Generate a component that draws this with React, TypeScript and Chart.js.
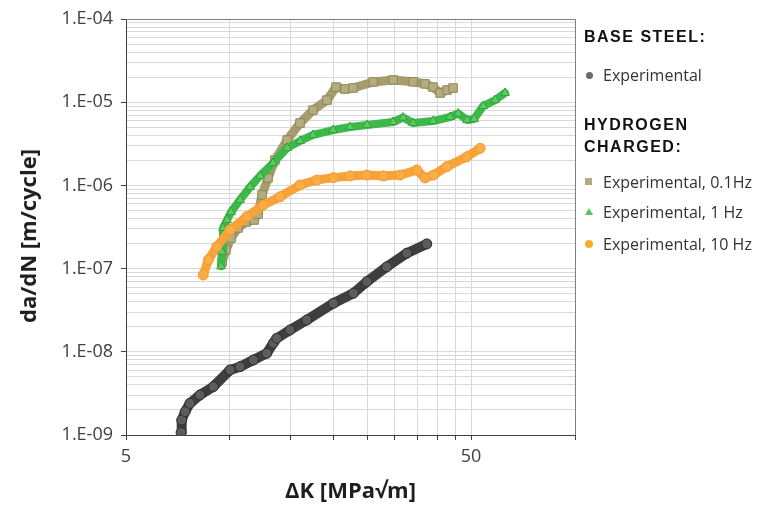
import React, { useEffect, useRef } from 'react';
import { Chart, registerables } from 'chart.js';

Chart.register(...registerables);

// ---- axis ticks ----
const xTickValues = [5, 10, 15, 20, 25, 30, 35, 40, 45, 50, 100];
const xLabelValues = [5, 50];
const yMajorValues = [1e-9, 1e-8, 1e-7, 1e-6, 1e-5, 1e-4];
const yMinorMultipliers = [2, 3, 4, 5, 6, 7, 8, 9];

// ---- series: Base steel, experimental ----
const baseK = [7.22, 7.25, 7.42, 7.66, 8.19, 8.95, 10.01, 10.7, 11.69, 12.79, 13.36, 13.67, 14.94, 16.7, 19.95, 22.79, 24.93, 28.48, 32.56, 37.19];
const baseRate = [1.07e-9, 1.51e-9, 1.91e-9, 2.4e-9, 3.03e-9, 3.81e-9, 6.04e-9, 6.62e-9, 7.96e-9, 9.59e-9, 1.27e-8, 1.45e-8, 1.83e-8, 2.41e-8, 3.83e-8, 5.05e-8, 6.96e-8, 1.05e-7, 1.53e-7, 1.98e-7];

// ---- Hydrogen charged, 0.1 Hz ----
const h01K = [9.49, 9.74, 10.08, 10.56, 11.13, 11.75, 12.07, 12.39, 12.9, 13.51, 14.65, 15.97, 17.42, 19.12, 20.3, 21.56, 22.75, 26.0, 29.71, 33.95, 36.78, 38.79, 40.66, 42.59, 44.33];
const h01Rate = [1.2e-7, 1.68e-7, 2.33e-7, 3.08e-7, 3.63e-7, 3.84e-7, 4.53e-7, 7.67e-7, 1.23e-6, 2.02e-6, 3.51e-6, 5.62e-6, 8.05e-6, 1.06e-5, 1.52e-5, 1.44e-5, 1.48e-5, 1.75e-5, 1.85e-5, 1.76e-5, 1.66e-5, 1.52e-5, 1.29e-5, 1.4e-5, 1.48e-5];

// ---- Hydrogen charged, 1 Hz ----
const h1K = [9.43, 9.49, 9.55, 9.81, 10.08, 10.7, 11.44, 12.23, 13.34, 14.65, 15.97, 17.42, 19.91, 22.3, 24.97, 29.71, 31.76, 33.95, 38.79, 43.46, 45.85, 48.69, 51.0, 54.2, 58.7, 62.7];
const h1Rate = [1.07e-7, 1.59e-7, 3.08e-7, 3.84e-7, 4.79e-7, 6.68e-7, 9.57e-7, 1.3e-6, 1.86e-6, 2.82e-6, 3.42e-6, 4.04e-6, 4.63e-6, 5.04e-6, 5.32e-6, 5.78e-6, 6.55e-6, 5.62e-6, 5.94e-6, 6.64e-6, 7.31e-6, 6.1e-6, 6.28e-6, 9.0e-6, 1.06e-5, 1.29e-5];

// ---- Hydrogen charged, 10 Hz ----
const h10K = [8.37, 8.66, 9.16, 10.01, 11.19, 12.5, 13.98, 15.97, 17.86, 19.95, 22.3, 24.93, 27.84, 31.13, 34.81, 36.78, 38.88, 42.51, 48.59, 53.1];
const h10Rate = [8.38e-8, 1.27e-7, 1.83e-7, 2.91e-7, 4.21e-7, 5.81e-7, 7.31e-7, 1.01e-6, 1.16e-6, 1.24e-6, 1.3e-6, 1.33e-6, 1.3e-6, 1.33e-6, 1.53e-6, 1.23e-6, 1.33e-6, 1.68e-6, 2.21e-6, 2.79e-6];

const toPoints = (xs: number[], ys: number[]) => xs.map((x, i) => ({ x, y: ys[i] }));

const isDecade = (v: number) => {
  const l = Math.log10(v);
  return Math.abs(l - Math.round(l)) < 1e-6;
};

const yTickValues = (() => {
  const out: number[] = [];
  yMajorValues.forEach((d, i) => {
    out.push(d);
    if (i < yMajorValues.length - 1) yMinorMultipliers.forEach((m) => out.push(m * d));
  });
  return out;
})();

const yLabel = (v: number) => {
  if (!isDecade(v)) return '';
  const e = Math.round(Math.log10(v));
  const s = String(Math.abs(e)).padStart(2, '0');
  return '1.E' + (e < 0 ? '-' : '+') + s;
};

const framePlugin = {
  id: 'frame',
  beforeDatasetsDraw(chart: any) {
    const { ctx, chartArea } = chart;
    const { left, top, right, bottom } = chartArea;
    ctx.save();
    ctx.strokeStyle = '#7f7f7f';
    ctx.lineWidth = 1;
    ctx.beginPath();
    ctx.moveTo(left, Math.round(top) + 0.5);
    ctx.lineTo(Math.round(right) + 0.5, Math.round(top) + 0.5);
    ctx.lineTo(Math.round(right) + 0.5, bottom);
    ctx.stroke();
    ctx.restore();
  },
};

const FONT = "'Open Sans', 'Noto Sans', sans-serif";

export default function App() {
  const ref = useRef<HTMLCanvasElement>(null);

  useEffect(() => {
    const series = (
      label: string,
      xs: number[],
      ys: number[],
      band: string,
      fill: string,
      edge: string,
      style: string,
      radius: number,
      width: number,
      order: number
    ) => ({
      label,
      data: toPoints(xs, ys),
      showLine: true,
      borderColor: band,
      borderWidth: width,
      borderCapStyle: 'round',
      borderJoinStyle: 'round',
      tension: 0,
      pointStyle: style,
      pointRadius: radius,
      pointBackgroundColor: fill,
      pointBorderColor: edge,
      pointBorderWidth: 1,
      order,
    });

    const chart = new Chart(ref.current as HTMLCanvasElement, {
      type: 'scatter',
      data: {
        datasets: [
          series('Experimental, 10 Hz', h10K, h10Rate, '#f7a23a', '#fbac45', '#f29a2c', 'circle', 5, 9, 0),
          series('Experimental, 1 Hz', h1K, h1Rate, '#3db84b', '#62c860', '#2fa53e', 'triangle', 5, 8, 1),
          series('Experimental, 0.1Hz', h01K, h01Rate, '#a59d6c', '#b5ad80', '#8f8759', 'rect', 6, 9, 2),
          series('Experimental', baseK, baseRate, '#3e3e3e', '#5c5c5c', '#2e2e2e', 'circle', 5, 10, 3),
        ] as any,
      },
      options: {
        responsive: false,
        animation: false,
        devicePixelRatio: 1,
        layout: { padding: { top: 19, right: 183, bottom: 0, left: 0 } },
        plugins: { legend: { display: false }, tooltip: { enabled: false } },
        scales: {
          x: {
            type: 'logarithmic',
            position: 'bottom',
            min: 5,
            max: 100,
            afterBuildTicks: (s: any) => {
              s.ticks = xTickValues.map((v) => ({ value: v }));
            },
            afterFit: (s: any) => {
              s.height = 71;
            },
            ticks: {
              autoSkip: false,
              maxRotation: 0,
              color: '#404040',
              padding: 6,
              font: { family: FONT, size: 18 },
              callback: (v: any) => (xLabelValues.includes(Number(v)) ? String(v) : ''),
            },
            grid: { color: '#d9d9d9', tickColor: '#404040', tickLength: 5, lineWidth: 1 },
            border: { color: '#404040', width: 1 },
            title: {
              display: true,
              text: 'ΔK [MPa√m]',
              color: '#1e1e1e',
              font: { family: FONT, size: 22, weight: 'bold' },
              padding: { top: 0, bottom: 1 },
            },
          },
          y: {
            type: 'logarithmic',
            position: 'left',
            min: 1e-9,
            max: 1e-4,
            afterBuildTicks: (s: any) => {
              s.ticks = yTickValues.map((v) => ({ value: v }));
            },
            afterFit: (s: any) => {
              s.width = 126;
            },
            ticks: {
              autoSkip: false,
              color: '#404040',
              padding: 8,
              font: { family: FONT, size: 18 },
              callback: (v: any) => yLabel(Number(v)),
            },
            grid: {
              color: '#d9d9d9',
              tickColor: (ctx: any) => (ctx.tick && isDecade(ctx.tick.value) ? '#404040' : 'rgba(0,0,0,0)'),
              tickLength: 5,
              lineWidth: 1,
            },
            border: { color: '#404040', width: 1 },
          },
        },
      } as any,
      plugins: [framePlugin],
    });
    return () => chart.destroy();
  }, []);

  const head: React.CSSProperties = {
    position: 'absolute',
    left: 584,
    fontFamily: "'Liberation Sans', Arial, sans-serif",
    fontWeight: 'bold',
    fontSize: 16,
    lineHeight: '16px',
    letterSpacing: '1.5px',
    color: '#111',
    whiteSpace: 'nowrap',
  };
  const item: React.CSSProperties = {
    position: 'absolute',
    left: 603,
    fontFamily: FONT,
    fontSize: 16,
    lineHeight: '16px',
    color: '#333',
    whiteSpace: 'nowrap',
  };

  return (
    <div style={{ position: 'fixed', left: 0, top: 0, width: 758, height: 506, background: '#fff', overflow: 'hidden' }}>
      <canvas ref={ref} width={758} height={506} style={{ position: 'absolute', left: 0, top: 0, width: 758, height: 506 }} />
      <div
        style={{
          position: 'absolute',
          left: 27,
          top: 236,
          transform: 'translate(-50%, -50%) rotate(-90deg)',
          fontFamily: FONT,
          fontWeight: 'bold',
          fontSize: 22,
          color: '#1e1e1e',
          whiteSpace: 'nowrap',
        }}
      >
        da/dN [m/cycle]
      </div>
      <div style={{ ...head, top: 42 - 13.5 }}>BASE STEEL:</div>
      <div style={{ position: 'absolute', left: 586, top: 72, width: 7, height: 7, borderRadius: '50%', background: '#6b6b6b' }} />
      <div style={{ ...item, top: 80.7 - 14.2 }}>Experimental</div>
      <div style={{ ...head, top: 130 - 13.5 }}>HYDROGEN</div>
      <div style={{ ...head, top: 152 - 13.5 }}>CHARGED:</div>
      <div style={{ position: 'absolute', left: 585, top: 178, width: 7, height: 7, background: '#b3ab80' }} />
      <div style={{ ...item, top: 188 - 14.2 }}>Experimental, 0.1Hz</div>
      <div
        style={{
          position: 'absolute',
          left: 585,
          top: 208,
          width: 0,
          height: 0,
          borderLeft: '4px solid transparent',
          borderRight: '4px solid transparent',
          borderBottom: '7px solid #5cc25c',
        }}
      />
      <div style={{ ...item, top: 218 - 14.2 }}>Experimental, 1 Hz</div>
      <div style={{ position: 'absolute', left: 585, top: 240, width: 8, height: 8, borderRadius: '50%', background: '#fbad2a' }} />
      <div style={{ ...item, top: 250 - 14.2 }}>Experimental, 10 Hz</div>
    </div>
  );
}
